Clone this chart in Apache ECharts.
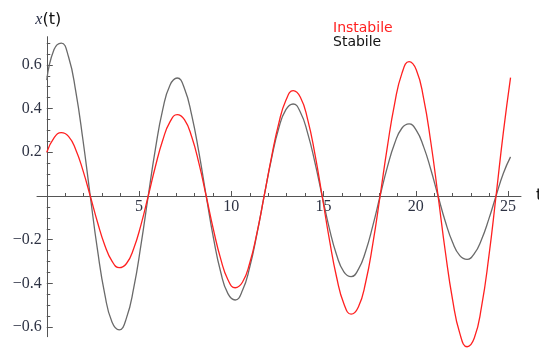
<!DOCTYPE html>
<html>
<head>
<meta charset="utf-8">
<script src="https://cdn.jsdelivr.net/npm/echarts@6/dist/echarts.min.js"></script>
<style>html,body{margin:0;padding:0;background:#fff}#c{width:539px;height:349px}</style>
</head>
<body>
<div id="c"></div>
<script>
var tValues = [0, 0.393, 0.785, 1.178, 1.571, 1.963, 2.356, 2.749, 3.142, 3.534, 3.927, 4.320, 4.712, 5.105, 5.498, 5.890, 6.283, 6.676, 7.069, 7.461, 7.854, 8.247, 8.639, 9.032, 9.425, 9.817, 10.210, 10.603, 10.996, 11.388, 11.781, 12.174, 12.566, 12.959, 13.352, 13.744, 14.137, 14.530, 14.923, 15.315, 15.708, 16.101, 16.493, 16.886, 17.279, 17.671, 18.064, 18.457, 18.850, 19.242, 19.635, 20.028, 20.420, 20.813, 21.206, 21.598, 21.991, 22.384, 22.777, 23.169, 23.562, 23.955, 24.347, 24.740, 25.133];
var stabile = [0.53, 0.670, 0.70, 0.637, 0.479, 0.255, 0, -0.247, -0.449, -0.577, -0.613, -0.558, -0.421, -0.224, 0, 0.217, 0.395, 0.507, 0.54, 0.492, 0.370, 0.198, 0, -0.192, -0.348, -0.447, -0.476, -0.433, -0.327, -0.174, 0, 0.169, 0.308, 0.395, 0.421, 0.383, 0.288, 0.154, 0, -0.149, -0.270, -0.347, -0.369, -0.336, -0.254, -0.136, 0, 0.132, 0.240, 0.310, 0.33, 0.300, 0.226, 0.121, 0, -0.117, -0.212, -0.273, -0.29, -0.264, -0.199, -0.106, 0, 0.103, 0.179];
var instabile = [0.20, 0.266, 0.29, 0.273, 0.212, 0.116, 0, -0.120, -0.225, -0.298, -0.328, -0.309, -0.240, -0.132, 0, 0.136, 0.255, 0.339, 0.372, 0.349, 0.271, 0.149, 0, -0.154, -0.288, -0.383, -0.42, -0.395, -0.308, -0.170, 0, 0.176, 0.330, 0.438, 0.482, 0.452, 0.351, 0.193, 0, -0.199, -0.372, -0.493, -0.541, -0.508, -0.396, -0.218, 0, 0.225, 0.422, 0.560, 0.615, 0.577, 0.448, 0.246, 0, -0.254, -0.474, -0.629, -0.69, -0.650, -0.506, -0.279, 0, 0.289, 0.542];
var seriesNames = ['Instabile', 'Stabile'];
var xLabelValues = [5, 10, 15, 20, 25];
var xMinorValues = [1,2,3,4,6,7,8,9,11,12,13,14,16,17,18,19,21,22,23,24];
var yLabelValues = [-0.6, -0.4, -0.2, 0.2, 0.4, 0.6];
var yMinorValues = [-0.55,-0.5,-0.45,-0.35,-0.3,-0.25,-0.15,-0.1,-0.05,0.05,0.1,0.15,0.25,0.3,0.35,0.45,0.5,0.55,0.65,0.7];

function pairs(ys){ return tValues.map(function(t,i){ return [t, ys[i]]; }); }
var W = 539, H = 349;
var GL = 37, GR = 18, GT = 36.7, GB = 12.3;
var X_MIN = -0.53, X_MAX = 25.7, Y_MIN = -0.644, Y_MAX = 0.729;
var gw = W - GL - GR, gh = H - GT - GB;
// move axes so they cross at the origin
var xAxisOffset = -gh * (0 - Y_MIN) / (Y_MAX - Y_MIN);
var yAxisOffset = -gw * (0 - X_MIN) / (X_MAX - X_MIN);
var SERIF = "'Liberation Serif', 'DejaVu Serif', serif";
var tickColor = '#555';
var labelColor = '#2e3344';

var chart = echarts.init(document.getElementById('c'), null, {renderer: 'canvas'});
chart.setOption({
  animation: false,
  backgroundColor: '#fff',
  textStyle: {fontFamily: SERIF},
  grid: {left: GL, right: GR, top: GT, bottom: GB, containLabel: false, outerBoundsMode: 'none'},
  legend: {
    orient: 'vertical', left: 328, top: 21, padding: 0,
    icon: 'none', itemWidth: 0, itemHeight: 14, itemGap: 0,
    selectedMode: false,
    textStyle: {fontFamily: 'DejaVu Sans', fontSize: 14, lineHeight: 14},
    data: [
      {name: seriesNames[0], textStyle: {color: '#ff2020'}},
      {name: seriesNames[1], textStyle: {color: '#111'}}
    ]
  },
  xAxis: [
    {
      type: 'value', min: X_MIN, max: X_MAX, position: 'bottom', offset: xAxisOffset,
      name: 't', nameLocation: 'end', nameGap: 15,
      nameTextStyle: {fontFamily: 'DejaVu Sans', fontSize: 16, color: '#111', verticalAlign: 'middle'},
      axisLine: {show: true, onZero: false, lineStyle: {color: tickColor, width: 1}},
      axisTick: {show: true, inside: true, length: 5, customValues: xLabelValues, lineStyle: {color: tickColor}},
      axisLabel: {show: true, customValues: xLabelValues, margin: 3, fontFamily: SERIF, fontSize: 16, color: labelColor},
      splitLine: {show: false}
    },
    {
      type: 'value', min: X_MIN, max: X_MAX, position: 'bottom', offset: xAxisOffset,
      axisLine: {show: false, onZero: false},
      axisTick: {show: true, inside: true, length: 3, customValues: xMinorValues, lineStyle: {color: tickColor}},
      axisLabel: {show: false},
      splitLine: {show: false}
    }
  ],
  yAxis: [
    {
      type: 'value', min: Y_MIN, max: Y_MAX, position: 'left', offset: yAxisOffset,
      name: '{i|x}{n|(t)}', nameLocation: 'end', nameGap: 9,
      nameTextStyle: {
        align: 'center', padding: [0, 0, 0, 3],
        rich: {
          i: {fontFamily: SERIF, fontStyle: 'italic', fontSize: 16, color: '#2a3048'},
          n: {fontFamily: 'DejaVu Sans', fontSize: 16, color: '#111'}
        }
      },
      axisLine: {show: true, onZero: false, lineStyle: {color: tickColor, width: 1}},
      axisTick: {show: true, inside: true, length: 6, customValues: yLabelValues, lineStyle: {color: tickColor}},
      axisLabel: {
        show: true, customValues: yLabelValues, margin: 5,
        fontFamily: SERIF, fontSize: 16, color: labelColor,
        formatter: function(v){ return (v < 0 ? '\u2212' : '') + Math.abs(v).toFixed(1); }
      },
      splitLine: {show: false}
    },
    {
      type: 'value', min: Y_MIN, max: Y_MAX, position: 'left', offset: yAxisOffset,
      axisLine: {show: false, onZero: false},
      axisTick: {show: true, inside: true, length: 3.5, customValues: yMinorValues, lineStyle: {color: tickColor}},
      axisLabel: {show: false},
      splitLine: {show: false}
    }
  ],
  series: [
    {
      name: seriesNames[1], type: 'line', xAxisIndex: 0, yAxisIndex: 0, clip: false,
      data: pairs(stabile), smooth: true, showSymbol: false, symbol: 'none',
      lineStyle: {color: '#6a6a6a', width: 1.3}, itemStyle: {color: '#6a6a6a'}
    },
    {
      name: seriesNames[0], type: 'line', xAxisIndex: 0, yAxisIndex: 0, clip: false,
      data: pairs(instabile), smooth: true, showSymbol: false, symbol: 'none',
      lineStyle: {color: '#ff2020', width: 1.3}, itemStyle: {color: '#ff2020'}
    }
  ]
});
</script>
</body>
</html>
